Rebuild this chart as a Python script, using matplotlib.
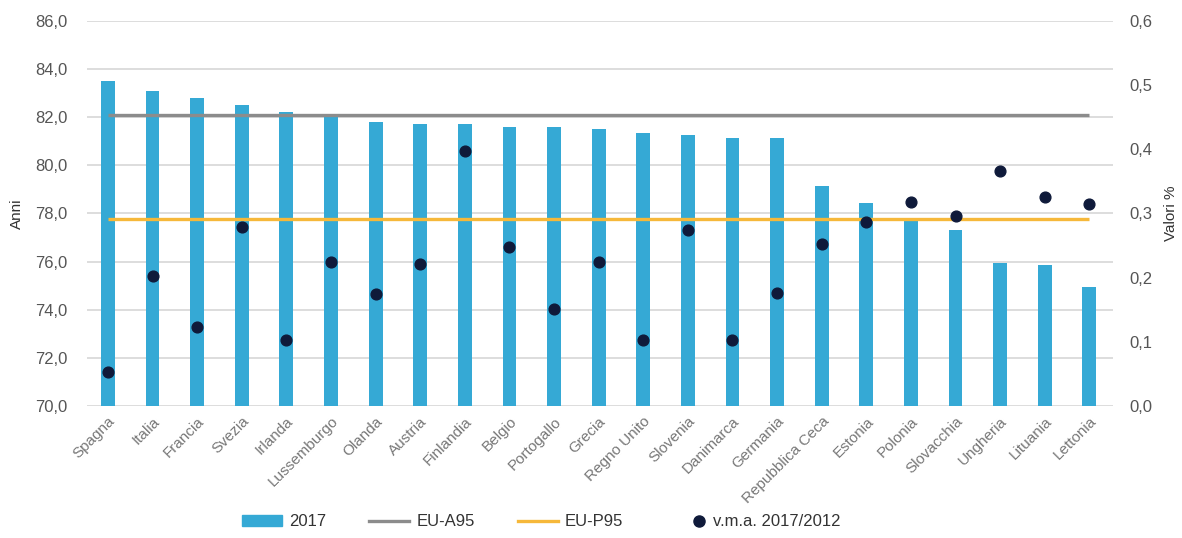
import numpy as np
import matplotlib
matplotlib.use("Agg")
import matplotlib.pyplot as plt
from matplotlib.ticker import FuncFormatter
from matplotlib.lines import Line2D
from matplotlib.patches import Patch
from matplotlib.legend_handler import HandlerLine2D

plt.rcParams['font.family'] = ['Liberation Sans Narrow', 'Liberation Sans', 'DejaVu Sans']

# Data
paesi = ["Spagna", "Italia", "Francia", "Svezia", "Irlanda", "Lussemburgo", "Olanda",
         "Austria", "Finlandia", "Belgio", "Portogallo", "Grecia", "Regno Unito",
         "Slovenia", "Danimarca", "Germania", "Repubblica Ceca", "Estonia", "Polonia",
         "Slovacchia", "Ungheria", "Lituania", "Lettonia"]
anni_2017 = [83.5, 83.1, 82.8, 82.5, 82.2, 82.0, 81.8, 81.7, 81.7, 81.6, 81.6, 81.5,
             81.35, 81.25, 81.15, 81.15, 79.15, 78.45, 77.8, 77.3, 75.95, 75.85, 74.95]
vma = [0.053, 0.202, 0.123, 0.278, 0.102, 0.225, 0.175, 0.221, 0.397, 0.248, 0.151,
       0.225, 0.102, 0.274, 0.102, 0.176, 0.252, 0.287, 0.318, 0.296, 0.366, 0.326, 0.314]
eu_a95 = 82.07
eu_p95 = 77.75

c_bar = "#35a9d5"
c_grey = "#8c8c8c"
c_orange = "#f6b83a"
c_dot = "#0f1a3a"
c_text = "#555555"


class RightDot(HandlerLine2D):
    # put the legend dot at the right end of its handle, next to the text
    def create_artists(self, legend, orig_handle, xdescent, ydescent, width, height, fontsize, trans):
        arts = super().create_artists(legend, orig_handle, xdescent, ydescent, width, height, fontsize, trans)
        for a in arts:
            if a.get_marker() not in (None, "None", ""):
                a.set_xdata([width - height * 0.6])
        return arts


fig = plt.figure(figsize=(11.82, 5.38), dpi=100)
ax = fig.add_axes([0.0736, 0.2454, 0.868, 0.716])
ax2 = ax.twinx()

x = np.arange(len(paesi))
ax.bar(x, anni_2017, width=0.31, color=c_bar, zorder=2)
ax.plot([x[0], x[-1]], [eu_a95, eu_a95], color=c_grey, lw=2.4, zorder=3, solid_capstyle="butt")
ax.plot([x[0], x[-1]], [eu_p95, eu_p95], color=c_orange, lw=2.4, zorder=3, solid_capstyle="butt")

ax.set_ylim(70, 86)
ax.set_xlim(-0.47, 22.53)
ax.set_yticks(np.arange(70, 87, 2))
ax.yaxis.set_major_formatter(FuncFormatter(lambda v, p: f"{v:.1f}".replace(".", ",")))
ax.grid(axis="y", color="#dddddd", lw=1.4, zorder=0)
ax.set_axisbelow(True)

ax2.scatter(x, vma, s=60, color=c_dot, zorder=5)
ax2.set_ylim(0, 0.6)
ax2.set_yticks(np.arange(0, 0.61, 0.1))
ax2.yaxis.set_major_formatter(FuncFormatter(lambda v, p: f"{v:.1f}".replace(".", ",")))

for a in (ax, ax2):
    for s in a.spines.values():
        s.set_visible(False)
    a.tick_params(length=0, labelsize=12, colors=c_text)

ax.set_xticks(x)
ax.set_xticklabels(paesi, rotation=45, ha="right", rotation_mode="anchor", fontsize=11, color="#777777")
ax.tick_params(axis="x", pad=6)
ax.tick_params(axis="y", pad=14)
ax2.tick_params(axis="y", pad=12)

ax.set_ylabel("Anni", fontsize=11, color="#333333", labelpad=8)
ax2.set_ylabel("Valori %", fontsize=11, color="#333333", labelpad=8)

dot_handle = Line2D([], [], color=c_dot, marker="o", ls="", markersize=8)
handles = [Patch(color=c_bar),
           Line2D([], [], color=c_grey, lw=2.4),
           Line2D([], [], color=c_orange, lw=2.4),
           dot_handle]
labels = ["2017", "EU-A95", "EU-P95", "v.m.a. 2017/2012"]
fig.legend(handles, labels, loc="center", bbox_to_anchor=(0.458, 0.03), ncol=4, frameon=False,
           fontsize=12, handlelength=2.4, handleheight=0.7, handletextpad=0.4,
           columnspacing=2.6, labelcolor="#333333",
           handler_map={dot_handle: RightDot()})

fig.savefig("out.png", dpi=100)
